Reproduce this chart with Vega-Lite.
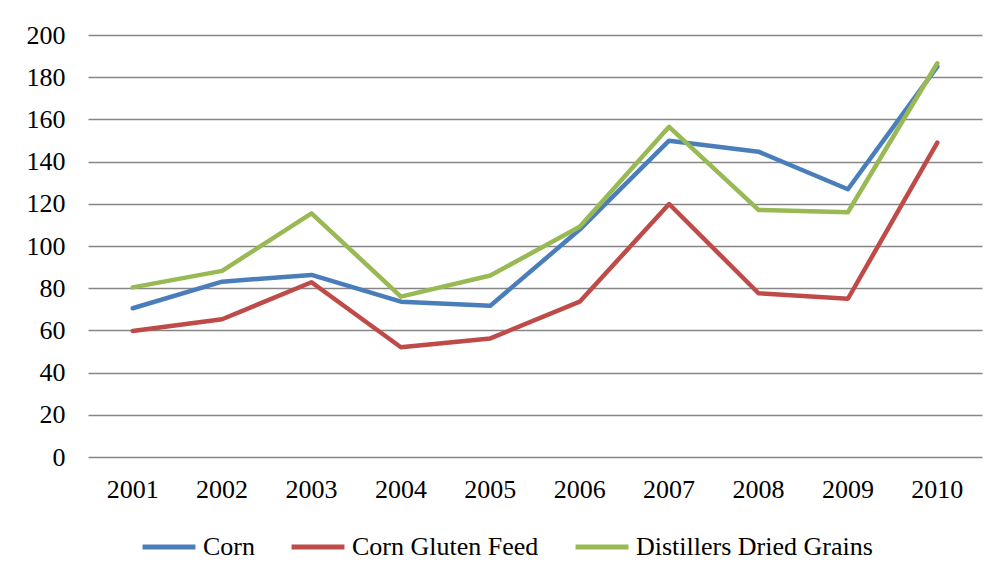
{
  "$schema": "https://vega.github.io/schema/vega-lite/v6.json",
  "autosize": {"type": "none"},
  "width": 894,
  "height": 422,
  "padding": {"left": 88, "top": 35, "right": 19, "bottom": 122},
  "background": "white",
  "config": {
    "view": {"stroke": null},
    "font": "Liberation Serif"
  },
  "data": {
    "values": [
      {"year": "2001", "series": "Corn", "value": 70.5},
      {"year": "2002", "series": "Corn", "value": 83.1},
      {"year": "2003", "series": "Corn", "value": 86.3},
      {"year": "2004", "series": "Corn", "value": 73.6},
      {"year": "2005", "series": "Corn", "value": 71.7},
      {"year": "2006", "series": "Corn", "value": 107.8},
      {"year": "2007", "series": "Corn", "value": 149.9},
      {"year": "2008", "series": "Corn", "value": 144.7},
      {"year": "2009", "series": "Corn", "value": 126.9},
      {"year": "2010", "series": "Corn", "value": 185},
      {"year": "2001", "series": "Corn Gluten Feed", "value": 59.7},
      {"year": "2002", "series": "Corn Gluten Feed", "value": 65.3},
      {"year": "2003", "series": "Corn Gluten Feed", "value": 82.8},
      {"year": "2004", "series": "Corn Gluten Feed", "value": 52},
      {"year": "2005", "series": "Corn Gluten Feed", "value": 56.2},
      {"year": "2006", "series": "Corn Gluten Feed", "value": 73.6},
      {"year": "2007", "series": "Corn Gluten Feed", "value": 119.9},
      {"year": "2008", "series": "Corn Gluten Feed", "value": 77.6},
      {"year": "2009", "series": "Corn Gluten Feed", "value": 75},
      {"year": "2010", "series": "Corn Gluten Feed", "value": 149},
      {"year": "2001", "series": "Distillers Dried Grains", "value": 80.4},
      {"year": "2002", "series": "Distillers Dried Grains", "value": 88.2},
      {"year": "2003", "series": "Distillers Dried Grains", "value": 115.5},
      {"year": "2004", "series": "Distillers Dried Grains", "value": 76},
      {"year": "2005", "series": "Distillers Dried Grains", "value": 86},
      {"year": "2006", "series": "Distillers Dried Grains", "value": 109.1},
      {"year": "2007", "series": "Distillers Dried Grains", "value": 156.5},
      {"year": "2008", "series": "Distillers Dried Grains", "value": 117.1},
      {"year": "2009", "series": "Distillers Dried Grains", "value": 116},
      {"year": "2010", "series": "Distillers Dried Grains", "value": 186.6}
    ]
  },
  "mark": {"type": "line", "strokeWidth": 4.5, "strokeJoin": "round", "strokeCap": "round"},
  "encoding": {
    "x": {
      "field": "year",
      "type": "ordinal",
      "scale": {"type": "band", "paddingInner": 0, "paddingOuter": 0},
      "axis": {
        "title": null,
        "labelAngle": 0,
        "labelFont": "Liberation Serif",
        "labelFontSize": 26,
        "labelColor": "black",
        "labelPadding": 19,
        "ticks": false,
        "domain": false,
        "grid": false
      }
    },
    "y": {
      "field": "value",
      "type": "quantitative",
      "scale": {"domain": [0, 200], "nice": false, "zero": true},
      "axis": {
        "title": null,
        "values": [0, 20, 40, 60, 80, 100, 120, 140, 160, 180, 200],
        "labelFont": "Liberation Serif",
        "labelFontSize": 26,
        "labelColor": "black",
        "labelPadding": 23,
        "ticks": false,
        "domain": false,
        "grid": true,
        "gridColor": "#868686",
        "gridWidth": 1.5
      }
    },
    "color": {
      "field": "series",
      "type": "nominal",
      "scale": {
        "domain": ["Corn", "Corn Gluten Feed", "Distillers Dried Grains"],
        "range": ["#4A7EBB", "#BE4B48", "#98B954"]
      },
      "legend": {
        "title": null,
        "orient": "none",
        "direction": "horizontal",
        "legendX": 52,
        "legendY": 483,
        "symbolType": "stroke",
        "symbolSize": 2800,
        "symbolStrokeWidth": 5,
        "labelFont": "Liberation Serif",
        "labelFontSize": 26,
        "labelColor": "black",
        "labelLimit": 400,
        "labelOffset": 5,
        "columnPadding": 26
      }
    }
  }
}
